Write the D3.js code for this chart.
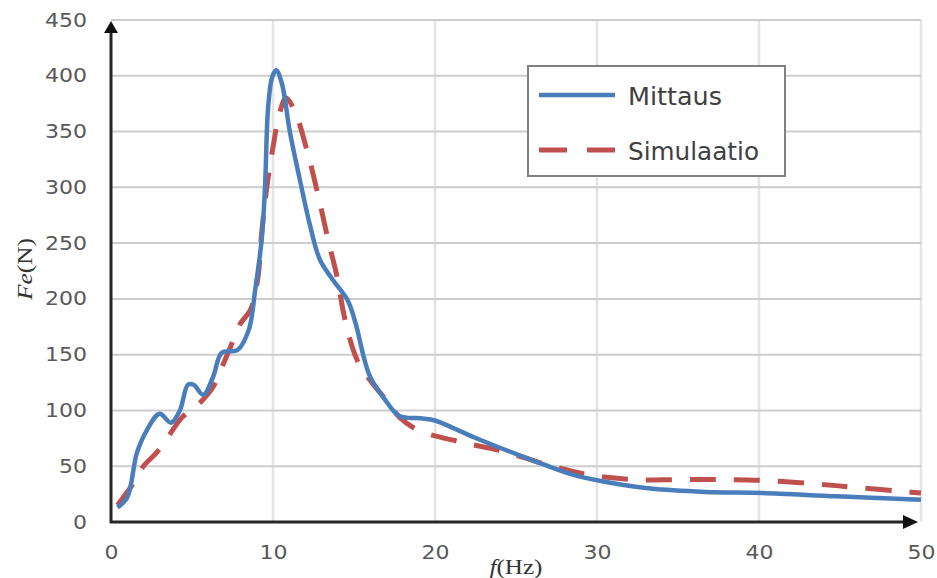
<!DOCTYPE html>
<html>
<head>
<meta charset="utf-8">
<script src="https://cdn.jsdelivr.net/npm/d3@7"></script>
<style>
  body { margin: 0; background: #fff; }
  svg { display: block; }
  .tick text { fill: #595959; font-family: "DejaVu Sans", sans-serif; }
</style>
</head>
<body>
<div id="chart"></div>
<script>
      var w = 937;
      var h = 578;

      // measured curve (Mittaus)
      var mittausF = [0.4, 1.0, 1.6, 2.2, 3.0, 3.7, 4.25, 4.75, 5.1, 5.7, 6.3, 6.85, 7.8, 8.5, 8.9, 9.3, 9.5, 9.7, 9.95, 10.2, 10.55, 11.05, 11.7, 12.3, 12.9, 13.7, 14.6, 15.1, 15.6, 16.0, 16.8, 17.8, 19.1, 20.0, 21.0, 22.4, 25.9, 28.6, 30.9, 33.3, 36.7, 40.2, 44.8, 50];
      var mittausV = [13, 22, 62, 82, 97, 89, 100, 123, 123, 114, 130, 152, 154, 172, 208, 253, 298, 372, 399, 405, 393, 349, 304, 265, 235, 217, 199, 178, 148, 130, 112, 95, 93, 91, 85, 76, 56, 42, 35, 30, 27, 26, 23, 20];

      // simulated curve (Simulaatio)
      var simF = [0.4, 1.3, 2.0, 2.8, 3.6, 4.4, 5.5, 6.3, 6.85, 7.35, 7.95, 8.6, 9.05, 9.3, 9.6, 10.0, 10.4, 10.8, 11.35, 12.1, 12.8, 13.4, 13.95, 14.45, 15.2, 16.0, 17.0, 17.8, 19.0, 21.5, 24.3, 27.0, 29.6, 32.3, 35.1, 37.8, 40.6, 43.6, 46.0, 49.2, 50];
      var simV = [15, 33, 50, 62, 78, 94, 107, 121, 139, 156, 177, 190, 217, 259, 298, 336, 366, 380, 368, 333, 292, 253, 220, 181, 145, 127, 109, 94, 82, 72, 63, 51, 42, 38, 38, 38, 37, 34, 31, 27, 26];

      var xTicks = [0, 10, 20, 30, 40, 50];
      var yTicks = [0, 50, 100, 150, 200, 250, 300, 350, 400, 450];
      var seriesNames = ['Mittaus', 'Simulaatio'];

      var xScale = d3.scaleLinear().domain([0, 50]).range([111, 921]);
      var yScale = d3.scaleLinear().domain([0, 450]).range([522, 20]);

      var svg = d3.select("#chart")
            .append("svg")
            .attr("width", w)
            .attr("height", h);

      //gridlines
      svg.append("g").selectAll("line")
         .data(xTicks.slice(1))
         .enter().append("line")
         .attr("x1", function(d) { return xScale(d); })
         .attr("x2", function(d) { return xScale(d); })
         .attr("y1", yScale(450))
         .attr("y2", yScale(0))
         .style("stroke", "#e4e4e4")
         .style("stroke-width", 2.5);

      svg.append("g").selectAll("line")
         .data(yTicks.slice(1))
         .enter().append("line")
         .attr("x1", xScale(0))
         .attr("x2", xScale(50))
         .attr("y1", function(d) { return yScale(d); })
         .attr("y2", function(d) { return yScale(d); })
         .style("stroke", "#cdcdcd")
         .style("stroke-width", 2);

      //axes with tick labels only (labels are a bit wide in the original)
      var xAxis = d3.axisBottom(xScale).tickValues(xTicks).tickSize(0).tickPadding(24);
      var yAxis = d3.axisLeft(yScale).tickValues(yTicks).tickSize(0).tickPadding(24);

      var gx = svg.append("g")
        .attr("transform", "translate(0," + yScale(0) + ")")
        .call(xAxis);
      gx.select(".domain").remove();

      var gy = svg.append("g")
        .attr("transform", "translate(" + xScale(0) + ",0)")
        .call(yAxis);
      gy.select(".domain").remove();

      svg.selectAll(".tick text")
        .style("font-size", "19px")
        .attr("lengthAdjust", "spacingAndGlyphs")
        .attr("textLength", function(d) { return String(d).length * 14; });

      //curves
      var line = d3.line()
          .x(function(d) { return xScale(d[0]); })
          .y(function(d) { return yScale(d[1]); })
          .curve(d3.curveCatmullRom.alpha(0.5));

      var simData = d3.zip(simF, simV);
      var mitData = d3.zip(mittausF, mittausV);

      svg.append("path")
        .datum(simData)
        .attr("d", line)
        .style("fill", "none")
        .style("stroke", "#c0504d")
        .style("stroke-width", 5)
        .style("stroke-dasharray", "26,18");

      svg.append("path")
        .datum(mitData)
        .attr("d", line)
        .style("fill", "none")
        .style("stroke", "#4a7ebb")
        .style("stroke-width", 4.5)
        .style("stroke-linejoin", "round");

      //axis lines with arrows
      svg.append("line")
        .attr("x1", xScale(0)).attr("y1", yScale(0) + 1)
        .attr("x2", xScale(0)).attr("y2", 30)
        .style("stroke", "#262626").style("stroke-width", 3);
      svg.append("path")
        .attr("d", "M" + xScale(0) + ",21 L" + (xScale(0) - 7) + ",33 L" + (xScale(0) + 7) + ",33 Z")
        .style("fill", "#111");

      svg.append("line")
        .attr("x1", xScale(0) - 1).attr("y1", yScale(0))
        .attr("x2", 908).attr("y2", yScale(0))
        .style("stroke", "#262626").style("stroke-width", 3);
      svg.append("path")
        .attr("d", "M918," + yScale(0) + " L903," + (yScale(0) - 7) + " L903," + (yScale(0) + 7) + " Z")
        .style("fill", "#111");

      //axis titles
      var yt = svg.append("text")
        .attr("transform", "translate(32,269) rotate(-90)")
        .attr("text-anchor", "middle")
        .attr("textLength", 62)
        .attr("lengthAdjust", "spacingAndGlyphs")
        .style("font-family", "'Liberation Serif', serif")
        .style("font-size", "20px")
        .style("fill", "#333");
      yt.append("tspan").style("font-style", "italic").text("Fe");
      yt.append("tspan").text("(N)");

      var xt = svg.append("text")
        .attr("x", 516)
        .attr("y", 574)
        .attr("text-anchor", "middle")
        .attr("textLength", 53)
        .attr("lengthAdjust", "spacingAndGlyphs")
        .style("font-family", "'Liberation Serif', serif")
        .style("font-size", "21px")
        .style("fill", "#333");
      xt.append("tspan").style("font-style", "italic").text("f");
      xt.append("tspan").text("(Hz)");

      //legend
      var legend = svg.append("g");
      legend.append("rect")
        .attr("x", 528).attr("y", 66)
        .attr("width", 257).attr("height", 110)
        .style("fill", "#fff")
        .style("stroke", "#808080")
        .style("stroke-width", 2);

      var items = legend.selectAll(".item")
        .data(seriesNames)
        .enter().append("g")
        .attr("class", "item")
        .attr("transform", function(d, i) { return "translate(0," + (95 + i * 55) + ")"; });

      items.append("line")
        .attr("x1", 539).attr("x2", 615)
        .attr("y1", 0).attr("y2", 0)
        .style("stroke", function(d, i) { return i === 0 ? "#4a7ebb" : "#c0504d"; })
        .style("stroke-width", function(d, i) { return i === 0 ? 4.5 : 5; })
        .style("stroke-dasharray", function(d, i) { return i === 0 ? null : "28,20"; });

      items.append("text")
        .attr("x", 628)
        .attr("y", 10)
        .attr("textLength", function(d, i) { return i === 0 ? 94 : 131; })
        .attr("lengthAdjust", "spacingAndGlyphs")
        .style("font-family", "'DejaVu Sans', sans-serif")
        .style("font-size", "24px")
        .style("fill", "#404040")
        .text(function(d) { return d; });
</script>
</body>
</html>
